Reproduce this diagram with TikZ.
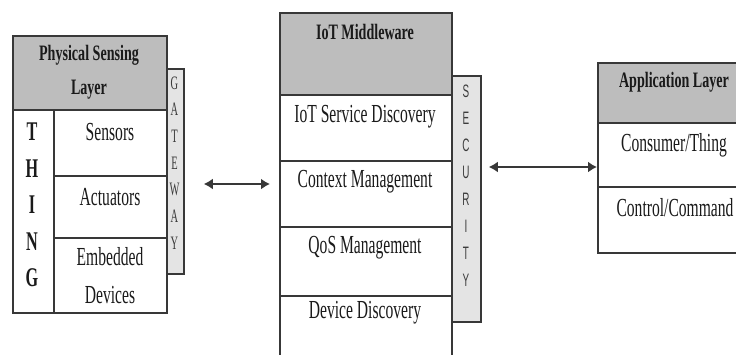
\documentclass[tikz,border=0pt]{standalone}
\usepackage{fontspec}
\setmainfont{Liberation Serif}
\newfontfamily\cond[FakeStretch=0.60]{Liberation Serif}
\newfontfamily\condb[FakeStretch=0.64]{Liberation Serif}
\newfontfamily\condt[FakeStretch=0.60]{Liberation Serif}
\newfontfamily\condg[FakeStretch=0.55]{Liberation Serif}
\newfontfamily\conds[FakeStretch=0.55]{Liberation Sans}
\usetikzlibrary{arrows.meta}
\definecolor{edge}{HTML}{383838}
\definecolor{headfill}{HTML}{BDBDBD}
\definecolor{sidefill}{HTML}{E4E4E4}
\definecolor{ink}{HTML}{1A1A1A}
\tikzset{
  box/.style={draw=edge, line width=1.8pt, inner sep=0pt, anchor=north west, rectangle},
  headbox/.style={box, fill=headfill},
  sidebox/.style={box, fill=sidefill},
  celltxt/.style={text=ink, inner sep=0pt, font=\cond\fontsize{26}{27}\selectfont},
  headtxt/.style={text=ink, inner sep=0pt, font=\condb\bfseries\fontsize{22}{23}\selectfont},
  thingtxt/.style={text=ink, inner sep=0pt, font=\condt\bfseries\fontsize{27}{28}\selectfont},
  gwtxt/.style={text=ink!85, inner sep=0pt, font=\condg\fontsize{19}{20}\selectfont},
  sectxt/.style={text=ink!85, inner sep=0pt, font=\conds\fontsize{18}{19}\selectfont},
  arr/.style={draw=edge, line width=2.6pt, {Latex[length=9pt,width=11pt]}-{Latex[length=9pt,width=11pt]}}
}
\begin{document}
\begin{tikzpicture}[x=1pt,y=-1pt]
\useasboundingbox (0,0) rectangle (736,354);
\clip (0,0) rectangle (736,354);
\fill[white] (0,0) rectangle (736,354);

% Physical sensing layer with the thing column and gateway strip
\node[sidebox, minimum width=17pt, minimum height=205pt] (gw) at (166,68) {};
\node[box, minimum width=154pt, minimum height=277pt] (psl) at (12,35) {};
\node[headbox, minimum width=154pt, minimum height=74pt] (pslh) at (12,35) {};
\node[box, minimum width=41pt, minimum height=203pt] (thing) at (12,109) {};
\node[box, minimum width=113pt, minimum height=66pt] (sens) at (53,109) {};
\node[box, minimum width=113pt, minimum height=62pt] (act) at (53,175) {};
\node[box, minimum width=113pt, minimum height=75pt] (emb) at (53,237) {};

\node[headtxt] (pslt1) at (89,55) {Physical Sensing};
\node[headtxt] (pslt2) at (89,90) {Layer};
\foreach \ch [count=\i from 0] in {T,H,I,N,G}
  \node[thingtxt] (th\i) at (32,{132+36.5*\i}) {\ch};
\node[celltxt] (senst) at (110,132) {Sensors};
\node[celltxt] (actt) at (110,197) {Actuators};
\node[celltxt] (embt1) at (110,257) {Embedded};
\node[celltxt] (embt2) at (110,295) {Devices};
\foreach \ch [count=\i from 0] in {G,A,T,E,W,A,Y}
  \node[gwtxt] (gwl\i) at (174.5,{83+26.7*\i}) {\ch};

% IoT middleware with the security strip
\node[sidebox, minimum width=29pt, minimum height=246pt] (sec) at (451,75) {};
\node[box, minimum width=172pt, minimum height=360pt] (mw) at (279,12) {};
\node[headbox, minimum width=172pt, minimum height=82pt] (mwh) at (279,12) {};
\node[box, minimum width=172pt, minimum height=66pt] (isd) at (279,94) {};
\node[box, minimum width=172pt, minimum height=66pt] (ctx) at (279,160) {};
\node[box, minimum width=172pt, minimum height=69pt] (qos) at (279,226) {};

\node[headtxt] (mwt) at (365,32) {IoT Middleware};
\node[celltxt] (isdt) at (365,117) {IoT Service Discovery};
\node[celltxt] (ctxt) at (365,182) {Context Management};
\node[celltxt] (qost) at (365,248) {QoS Management};
\node[celltxt] (ddt) at (365,313) {Device Discovery};
\foreach \ch [count=\i from 0] in {S,E,C,U,R,I,T,Y}
  \node[sectxt] (secl\i) at (466,{91+27*\i}) {\ch};

% Application layer
\node[box, minimum width=160pt, minimum height=190pt] (app) at (597,62) {};
\node[headbox, minimum width=160pt, minimum height=60pt] (apph) at (597,62) {};
\node[box, minimum width=160pt, minimum height=64pt] (cons) at (597,122) {};

\node[headtxt] (appt) at (674,82) {Application Layer};
\node[celltxt] (const) at (674,145) {Consumer/Thing};
\node[celltxt] (ctrlt) at (675,208) {Control/Command};

% Two-way links between the layers
\draw[arr, shorten <=19pt, shorten >=9pt] (gw.east |- 0,184) -- (mw.west |- 0,184);
\draw[arr, shorten <=7pt] (sec.east |- 0,167) -- (app.west |- 0,167);
\end{tikzpicture}
\end{document}
